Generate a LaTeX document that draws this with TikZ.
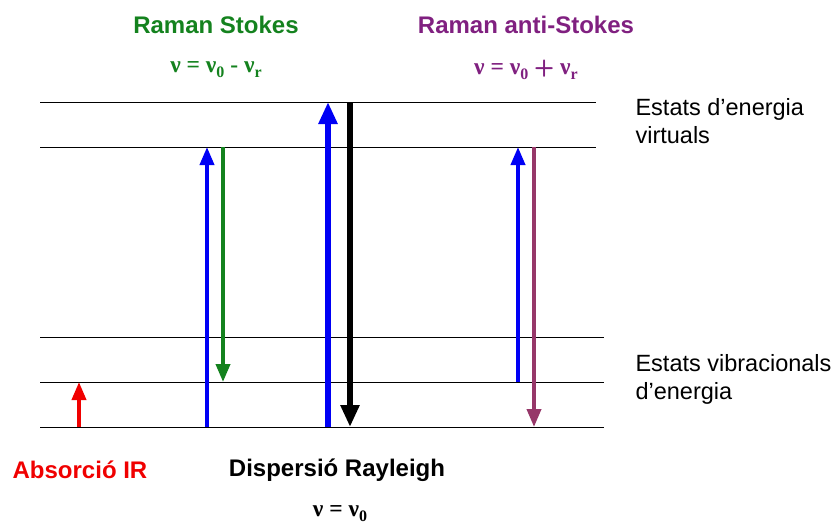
\documentclass[tikz,border=0pt]{standalone}
\usepackage{fontspec}
\setmainfont{Liberation Sans}
\newfontfamily\serifbf{Liberation Serif}
\usetikzlibrary{arrows.meta}
\definecolor{ramgreen}{RGB}{20,130,30}
\definecolor{rampurple}{RGB}{128,32,128}
\definecolor{antiarrow}{RGB}{150,55,105}
\definecolor{irred}{RGB}{240,0,0}
\definecolor{bluearr}{RGB}{0,0,245}
\newcommand{\lowsub}[1]{\raisebox{-0.45ex}{\fontsize{16}{16}\selectfont #1}}
\tikzset{
  level/.style={line width=0.9pt, black},
  thinarr/.style={line width=3.8pt, -{Triangle[length=18pt,width=14pt]}},
  thickarr/.style={line width=5.5pt, -{Triangle[length=22pt,width=18pt]}},
  title/.style={font=\fontsize{24}{26}\selectfont\bfseries},
  formula/.style={font=\fontsize{23.5}{25}\selectfont\serifbf\bfseries},
  side/.style={font=\fontsize{23.5}{28}\selectfont, anchor=west, align=left},
}
\begin{document}
\begin{tikzpicture}[x=1pt,y=-1pt]
\useasboundingbox (0,0) rectangle (837,525);
% levels
\coordinate (l1a) at (40,102); \coordinate (l1b) at (596,102);
\coordinate (l2a) at (40,147); \coordinate (l2b) at (596,147);
\coordinate (l3a) at (40,337); \coordinate (l3b) at (604,337);
\coordinate (l4a) at (40,382); \coordinate (l4b) at (604,382);
\coordinate (l5a) at (40,427); \coordinate (l5b) at (604,427);
\draw[level] (l1a) -- (l1b);
\draw[level] (l2a) -- (l2b);
\draw[level] (l3a) -- (l3b);
\draw[level] (l4a) -- (l4b);
\draw[level] (l5a) -- (l5b);
% arrow endpoints
\coordinate (ir0) at (79,427); \coordinate (ir1) at (79,382);
\coordinate (s0) at (207,427); \coordinate (s1) at (207,147);
\coordinate (g0) at (223,147); \coordinate (g1) at (223,382);
\coordinate (r0) at (328,427); \coordinate (r1) at (328,102);
\coordinate (k0) at (350,102); \coordinate (k1) at (350,427);
\coordinate (a0) at (518,382); \coordinate (a1) at (518,147);
\coordinate (p0) at (534,147); \coordinate (p1) at (534,427);
\draw[thinarr, irred] (ir0) -- (ir1);
\draw[thinarr, bluearr] (s0) -- (s1);
\draw[thinarr, ramgreen] (g0) -- (g1);
\draw[thickarr, bluearr] (r0) -- (r1);
\draw[thickarr, black] (k0) -- (k1);
\draw[thinarr, bluearr] (a0) -- (a1);
\draw[thinarr, antiarrow] (p0) -- (p1);
% texts
\node[title, ramgreen] (tst) at (216,25) {Raman Stokes};
\node[title, rampurple] (tas) at (526,25) {Raman anti-Stokes};
\node[formula, ramgreen] (fst) at (216,70) {ν = ν\lowsub{0} - ν\lowsub{r}};
\node[formula, rampurple] (fas) at (526,70) {ν = ν\lowsub{0} {\sffamily +} ν\lowsub{r}};
\node[side] (virt) at (632,121) {Estats d’energia\\virtuals};
\node[side] (vib) at (632,379) {Estats vibracionals\\d’energia};
\node[title, irred] (ir) at (80,470) {Absorció IR};
\node[title, black] (ray) at (337,470) {Dispersió Rayleigh};
\node[formula, black] (fr) at (340,514) {ν = ν\lowsub{0}};
\end{tikzpicture}
\end{document}
